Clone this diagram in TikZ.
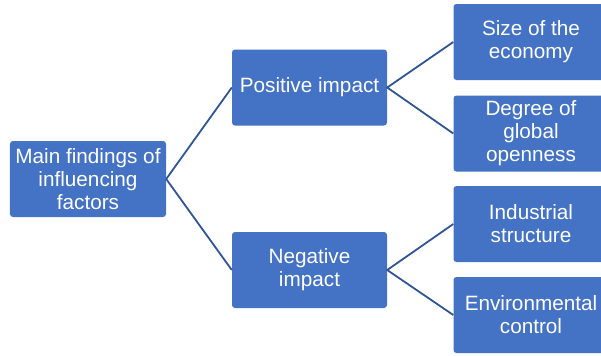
\documentclass[tikz,border=0pt]{standalone}
\usepackage{fontspec}
\setmainfont{Liberation Sans}
\definecolor{boxblue}{HTML}{4472C4}
\definecolor{linkblue}{HTML}{2F5597}
\begin{document}
\begin{tikzpicture}[x=1bp, y=-1bp,
    box/.style={draw=none, fill=boxblue, rounded corners=3bp, text=white,
      align=center, minimum width=155bp, minimum height=76bp, inner sep=0pt,
      font=\fontsize{20.8}{23}\selectfont},
    link/.style={draw=linkblue, line width=1.8bp, line join=miter}]
    % Frame of the picture
    \useasboundingbox (0,0) rectangle (601,355);

    % Root of the tree
    \node[box, minimum width=156bp] (main) at (88,179) {Main findings of\\influencing\\factors};

    % Middle level
    \node[box] (pos) at (309.5,87.5) {Positive impact};
    \node[box] (neg) at (309.5,270) {Negative\\impact};

    % Leaves
    \node[box] (size) at (531,42) {Size of the\\economy};
    \node[box] (open) at (531,133.5) {Degree of\\global\\openness};
    \node[box] (ind)  at (531,224) {Industrial\\structure};
    \node[box] (env)  at (531,315) {Environmental\\control};

    % Branches
    \draw[link] (pos.west) -- (main.east) -- (neg.west);
    \draw[link] (size.west) -- (pos.east) -- (open.west);
    \draw[link] (ind.west) -- (neg.east) -- (env.west);
\end{tikzpicture}
\end{document}
